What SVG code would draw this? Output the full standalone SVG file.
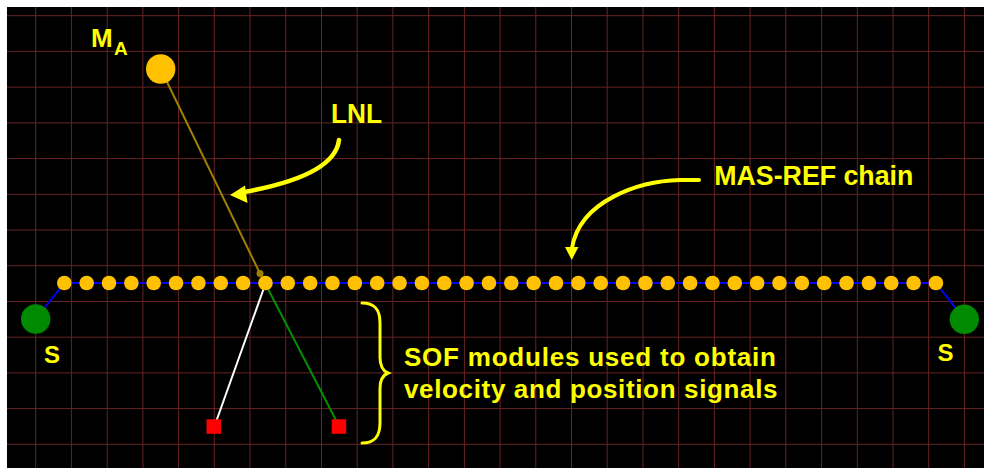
<svg xmlns="http://www.w3.org/2000/svg" width="984" height="468" viewBox="0 0 984 468">
<style>
.grid{stroke:#682424;stroke-width:1;fill:none}
.bead{fill:#FFC000}
.chain{stroke:#0000FF;stroke-width:2;fill:none}
.anchor{fill:#008A00}
.sof{fill:#FF0000}
.lbl{font-family:"Liberation Sans",Arial,sans-serif;font-weight:bold;fill:#FFFF00}
.ann{stroke:#FFFF00;fill:none;stroke-linecap:round}
.head{fill:#FFFF00}
</style>
<rect x="0" y="0" width="984" height="468" fill="#FFFFFF"/>
<rect x="7" y="7" width="977" height="461" fill="#000000"/>
<path class="grid" d="M35.7,7V468M71.4,7V468M107.2,7V468M142.9,7V468M178.6,7V468M214.3,7V468M250,7V468M285.8,7V468M321.5,7V468M357.2,7V468M392.9,7V468M428.6,7V468M464.4,7V468M500.1,7V468M535.8,7V468M571.5,7V468M607.2,7V468M643,7V468M678.7,7V468M714.4,7V468M750.1,7V468M785.8,7V468M821.6,7V468M857.3,7V468M893,7V468M928.7,7V468M964.4,7V468M7,15.7H984M7,51.4H984M7,87.1H984M7,122.9H984M7,158.6H984M7,194.3H984M7,230H984M7,265.7H984M7,301.5H984M7,337.2H984M7,372.9H984M7,408.6H984M7,444.3H984"/>
<g id="connectors">
<path class="chain" d="M35.7,319L64.3,283H936L964.3,319.3"/>
<line x1="160.7" y1="69" x2="260" y2="273.5" stroke="#A08000" stroke-width="2"/>
<line x1="260" y1="273.5" x2="339" y2="426" stroke="#009000" stroke-width="2"/>
<line x1="265.7" y1="283" x2="216" y2="422" stroke="#FFFFFF" stroke-width="2"/>
<path class="ann" stroke-width="4.5" d="M339,140C336,165 300,182 244,192"/>
<polygon class="head" points="230,195 245,185.5 247.5,203"/>
<path class="ann" stroke-width="4" d="M699,180H680C640,181 580,200 572,248"/>
<polygon class="head" points="571.7,260 565,247 578.5,247"/>
<path class="ann" stroke-width="3" d="M362,303C375,303 380,310 380,323L380,357C380,366 383,371 388,373C383,375 380,380 380,389L380,423C380,436 375,443 362,443"/>
</g>
<g id="MA"><circle cx="160.7" cy="69" r="14.7" class="bead"/><text class="lbl" x="91" y="46.7" font-size="26">M</text><text class="lbl" x="114" y="55" font-size="19">A</text></g>
<g id="lnl-end"><circle cx="260" cy="273.5" r="3.5" fill="#A08000"/></g>
<g id="S-left"><circle cx="35.7" cy="319" r="14.7" class="anchor"/><text class="lbl" x="44" y="363.3" font-size="24">S</text></g>
<g id="S-right"><circle cx="964.3" cy="319.3" r="14.7" class="anchor"/><text class="lbl" x="937.5" y="360.7" font-size="24">S</text></g>
<g id="sof-1"><rect x="206.5" y="419.3" width="14.5" height="14.5" class="sof"/></g>
<g id="sof-2"><rect x="331.7" y="419.3" width="14.5" height="14.5" class="sof"/></g>
<g id="bead-0"><circle cx="64.3" cy="283" r="7.3" class="bead"/></g>
<g id="bead-1"><circle cx="86.65" cy="283" r="7.3" class="bead"/></g>
<g id="bead-2"><circle cx="109" cy="283" r="7.3" class="bead"/></g>
<g id="bead-3"><circle cx="131.35" cy="283" r="7.3" class="bead"/></g>
<g id="bead-4"><circle cx="153.7" cy="283" r="7.3" class="bead"/></g>
<g id="bead-5"><circle cx="176.05" cy="283" r="7.3" class="bead"/></g>
<g id="bead-6"><circle cx="198.4" cy="283" r="7.3" class="bead"/></g>
<g id="bead-7"><circle cx="220.75" cy="283" r="7.3" class="bead"/></g>
<g id="bead-8"><circle cx="243.1" cy="283" r="7.3" class="bead"/></g>
<g id="bead-9"><circle cx="265.45" cy="283" r="7.3" class="bead"/></g>
<g id="bead-10"><circle cx="287.8" cy="283" r="7.3" class="bead"/></g>
<g id="bead-11"><circle cx="310.15" cy="283" r="7.3" class="bead"/></g>
<g id="bead-12"><circle cx="332.5" cy="283" r="7.3" class="bead"/></g>
<g id="bead-13"><circle cx="354.85" cy="283" r="7.3" class="bead"/></g>
<g id="bead-14"><circle cx="377.2" cy="283" r="7.3" class="bead"/></g>
<g id="bead-15"><circle cx="399.55" cy="283" r="7.3" class="bead"/></g>
<g id="bead-16"><circle cx="421.9" cy="283" r="7.3" class="bead"/></g>
<g id="bead-17"><circle cx="444.25" cy="283" r="7.3" class="bead"/></g>
<g id="bead-18"><circle cx="466.6" cy="283" r="7.3" class="bead"/></g>
<g id="bead-19"><circle cx="488.95" cy="283" r="7.3" class="bead"/></g>
<g id="bead-20"><circle cx="511.3" cy="283" r="7.3" class="bead"/></g>
<g id="bead-21"><circle cx="533.65" cy="283" r="7.3" class="bead"/></g>
<g id="bead-22"><circle cx="556" cy="283" r="7.3" class="bead"/></g>
<g id="bead-23"><circle cx="578.35" cy="283" r="7.3" class="bead"/></g>
<g id="bead-24"><circle cx="600.7" cy="283" r="7.3" class="bead"/></g>
<g id="bead-25"><circle cx="623.05" cy="283" r="7.3" class="bead"/></g>
<g id="bead-26"><circle cx="645.4" cy="283" r="7.3" class="bead"/></g>
<g id="bead-27"><circle cx="667.75" cy="283" r="7.3" class="bead"/></g>
<g id="bead-28"><circle cx="690.1" cy="283" r="7.3" class="bead"/></g>
<g id="bead-29"><circle cx="712.45" cy="283" r="7.3" class="bead"/></g>
<g id="bead-30"><circle cx="734.8" cy="283" r="7.3" class="bead"/></g>
<g id="bead-31"><circle cx="757.15" cy="283" r="7.3" class="bead"/></g>
<g id="bead-32"><circle cx="779.5" cy="283" r="7.3" class="bead"/></g>
<g id="bead-33"><circle cx="801.85" cy="283" r="7.3" class="bead"/></g>
<g id="bead-34"><circle cx="824.2" cy="283" r="7.3" class="bead"/></g>
<g id="bead-35"><circle cx="846.55" cy="283" r="7.3" class="bead"/></g>
<g id="bead-36"><circle cx="868.9" cy="283" r="7.3" class="bead"/></g>
<g id="bead-37"><circle cx="891.25" cy="283" r="7.3" class="bead"/></g>
<g id="bead-38"><circle cx="913.6" cy="283" r="7.3" class="bead"/></g>
<g id="bead-39"><circle cx="935.95" cy="283" r="7.3" class="bead"/></g>
<g id="labels">
<text class="lbl" x="331" y="123.3" font-size="27" textLength="51" lengthAdjust="spacingAndGlyphs">LNL</text>
<text class="lbl" x="714.3" y="185" font-size="27" textLength="199" lengthAdjust="spacingAndGlyphs">MAS-REF chain</text>
<text class="lbl" x="404" y="366" font-size="26" textLength="372" lengthAdjust="spacing">SOF modules used to obtain</text>
<text class="lbl" x="404" y="398.3" font-size="26" textLength="373.5" lengthAdjust="spacing">velocity and position signals</text>
</g>
</svg>
